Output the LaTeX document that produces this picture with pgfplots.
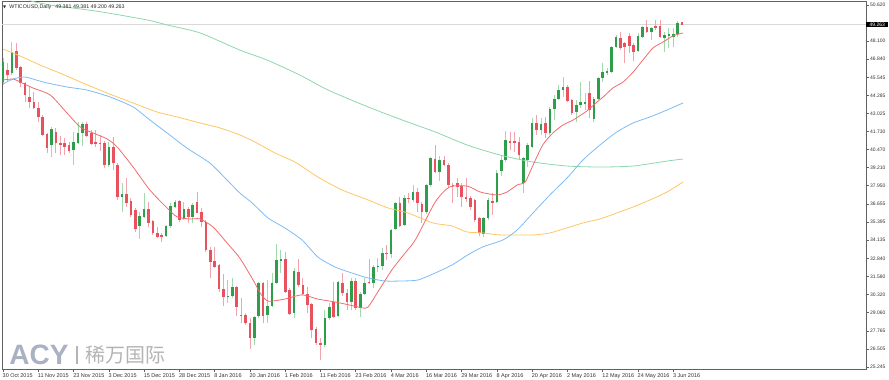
\documentclass[border=0pt]{standalone}
\usepackage{fontspec}
\setmainfont{Liberation Sans}
\newfontfamily\dejavu{DejaVu Sans}
\newfontfamily\cjk{Noto Sans CJK SC}
\usepackage{pgfplots}
\usepackage{pgfplotstable}
\pgfplotsset{compat=1.18}

\definecolor{bodyred}{HTML}{E8525F}
\definecolor{wickred}{HTML}{F2A3AD}
\definecolor{bodygreen}{HTML}{2F9E4B}
\definecolor{wickgreen}{HTML}{A3D9AE}
\definecolor{maRed}{HTML}{F26B6B}
\definecolor{maBlue}{HTML}{7DBBF7}
\definecolor{maOrange}{HTML}{FFC663}
\definecolor{maGreen}{HTML}{8FD6AC}
\definecolor{wmblue}{HTML}{A9B1C2}
\definecolor{wmgray}{HTML}{B4B4B4}

% rising candles: i open high low close
\pgfplotstableread{
i o h l c
0 45.22 46.90 45.01 46.62
2 45.85 48.03 45.71 47.32
11 40.81 42.07 39.96 41.93
16 40.45 41.72 39.40 41.02
17 40.95 42.42 40.88 41.65
18 41.65 42.42 40.74 42.28
24 39.40 41.02 39.26 40.66
27 37.16 38.14 36.11 37.37
31 35.13 36.11 34.22 35.83
32 35.76 37.44 35.69 36.32
37 34.43 35.20 34.36 35.13
38 35.13 36.74 34.99 36.53
39 36.46 36.95 36.39 36.81
41 35.62 36.81 35.55 36.32
43 35.76 36.74 35.34 36.60
51 30.15 31.34 29.73 30.22
52 30.22 31.48 30.08 30.85
57 27.28 28.80 26.79 28.75
58 28.82 31.18 28.68 31.13
60 28.89 31.34 28.33 29.52
61 29.52 31.83 29.45 31.13
62 31.13 33.87 31.06 32.74
63 32.67 33.45 31.83 32.81
66 29.03 32.18 28.68 31.97
73 26.79 29.24 26.65 28.68
74 28.68 29.73 28.54 29.45
76 28.82 31.27 28.75 31.20
79 29.80 31.48 29.24 31.27
81 29.38 30.50 28.75 30.36
82 30.36 31.48 30.29 31.13
84 31.13 32.39 30.78 32.25
85 32.25 32.88 31.90 32.32
86 32.32 33.59 32.04 33.24
88 33.17 34.92 32.88 34.85
89 34.92 36.81 34.85 36.74
91 35.20 37.30 35.13 37.09
93 36.95 38.00 36.81 37.51
96 36.11 38.07 35.97 38.00
97 38.00 39.96 37.86 39.89
99 38.91 40.03 38.28 39.75
109 34.57 35.75 34.36 35.69
110 35.69 37.09 35.55 36.95
112 36.81 39.05 36.74 38.84
113 38.98 40.10 38.63 39.75
114 39.75 41.79 39.61 41.16
118 38.14 39.96 37.44 39.89
119 39.75 40.95 39.26 40.81
120 40.66 42.70 40.59 42.35
122 41.86 42.70 41.51 42.28
124 41.65 43.47 41.51 43.33
125 43.33 44.31 42.56 44.03
126 44.03 45.01 43.96 44.66
127 44.66 45.57 44.17 44.87
130 43.12 43.96 42.42 43.61
131 43.61 45.22 43.40 43.82
132 43.68 44.45 43.26 43.82
134 42.63 44.17 42.42 44.03
135 44.03 45.57 43.96 45.50
136 45.50 46.55 45.22 45.92
137 45.85 46.20 45.71 45.99
138 45.92 47.75 45.85 47.68
139 47.68 48.52 47.61 48.38
144 47.39 48.66 47.32 48.45
145 48.38 49.15 48.31 49.08
147 48.73 49.08 48.17 49.01
150 48.31 48.73 47.32 48.52
151 48.45 49.01 47.61 48.59
152 48.38 49.01 47.68 48.59
153 48.59 49.50 48.38 49.36
}\up

% falling candles: i open high low close
\pgfplotstableread{
i o h l c
1 46.06 46.55 45.22 45.71
3 47.39 47.96 46.06 46.20
4 46.27 46.34 44.87 45.15
5 45.15 45.22 43.82 44.31
6 44.17 44.87 43.40 43.82
7 43.82 44.52 43.33 43.40
8 43.40 43.82 42.42 42.77
9 42.77 42.91 41.44 41.51
10 41.58 41.65 40.24 40.59
12 41.72 42.00 40.24 40.95
13 40.95 41.44 40.10 40.81
14 40.95 41.30 40.10 40.66
15 40.81 41.02 40.24 40.38
19 42.28 42.42 41.37 41.44
20 41.65 41.86 40.81 40.88
21 41.02 41.86 40.66 40.88
22 40.95 41.51 40.38 40.88
23 40.95 41.09 39.19 39.40
25 40.66 41.37 39.05 39.54
26 39.40 39.54 36.95 37.16
28 37.37 38.49 36.46 36.74
29 36.88 37.09 35.76 35.90
30 36.25 36.39 34.71 34.92
33 36.32 36.81 35.06 35.34
34 35.48 35.55 34.50 34.64
35 34.64 35.06 34.29 34.36
36 34.50 34.64 34.01 34.36
40 36.88 36.95 35.41 35.55
42 36.32 36.46 35.34 35.76
44 36.81 37.51 36.04 36.06
45 36.11 36.39 35.06 35.41
46 35.41 35.55 33.31 33.45
47 33.45 33.66 31.48 32.60
48 32.67 33.66 32.18 32.25
49 32.39 32.46 30.50 30.71
50 30.71 31.76 29.52 30.15
53 30.85 30.90 28.82 29.45
54 28.89 30.08 28.33 28.82
55 28.89 29.03 28.19 28.33
56 28.33 28.68 26.51 27.28
59 31.13 31.20 28.33 28.82
64 32.81 33.31 30.43 30.50
65 30.64 30.78 28.89 28.96
67 31.90 32.81 30.85 30.99
68 30.99 31.48 30.29 30.36
69 30.36 30.85 29.03 29.59
70 29.66 29.73 27.28 27.84
71 27.91 28.05 26.79 26.93
72 26.93 27.28 25.73 26.79
75 29.80 31.20 28.68 28.75
77 31.13 31.83 30.22 30.43
78 30.43 30.71 29.24 29.80
80 31.27 31.48 29.24 29.38
83 31.20 32.81 31.06 31.13
87 33.24 33.80 32.74 33.17
90 36.74 37.16 35.06 35.13
92 37.09 37.44 36.74 37.02
94 37.51 37.79 36.11 36.74
95 36.67 36.81 35.34 36.11
98 39.82 40.81 38.84 38.91
100 39.75 40.03 39.33 39.40
101 39.40 39.54 37.86 38.00
102 38.00 38.14 36.74 37.93
103 38.14 38.49 37.16 37.86
104 37.93 38.14 36.46 37.16
105 37.16 38.49 36.81 37.02
106 37.09 37.23 36.25 36.46
107 36.95 37.00 35.41 35.55
108 35.69 35.76 34.43 34.64
111 36.88 37.44 35.90 36.74
115 41.09 41.72 40.45 40.95
116 41.09 41.72 40.31 40.95
117 41.02 41.37 39.75 40.10
121 42.35 42.91 41.51 41.86
123 42.35 42.77 41.30 41.65
128 44.87 45.01 43.82 43.89
129 43.96 44.03 42.91 43.05
133 44.45 45.29 42.70 43.26
140 48.31 48.73 47.46 47.61
141 47.96 48.03 46.55 47.68
142 48.45 48.66 47.25 47.75
143 47.82 47.96 46.69 47.32
146 49.08 49.57 48.66 48.73
148 49.15 49.57 48.87 49.01
149 49.15 49.57 48.31 48.38
154 49.381 49.381 49.200 49.263
}\dn

\begin{document}
\begin{tikzpicture}
\useasboundingbox (0,0) rectangle (889pt,380pt);
% watermark
\node[anchor=center, inner sep=0pt, text=wmblue, font=\fontsize{28}{28}\selectfont\bfseries] at (39pt,25pt) {ACY};
\draw[wmgray, line width=1.3pt] (77pt,16pt) -- (77pt,34pt);
\node[anchor=center, inner sep=0pt, text=wmgray, font=\cjk\fontsize{20}{20}\selectfont] at (125pt,25pt) {稀万国际};

\begin{axis}[
  at={(2pt,11pt)}, anchor=south west,
  scale only axis, width=864pt, height=368pt,
  xmin=-0.23, xmax=195.7, ymin=25.10, ymax=50.90,
  clip mode=individual,
  axis line style={draw=black!62, line width=0.8pt},
  tick style={draw=black!62, line width=0.6pt},
  tick align=outside, major tick length=3pt,
  xtick pos=lower, ytick pos=right, yticklabel pos=right,
  xtick={0,8,...,152},
  xticklabels={30 Oct 2015,11 Nov 2015,23 Nov 2015,3 Dec 2015,15 Dec 2015,28 Dec 2015,8 Jan 2016,20 Jan 2016,1 Feb 2016,11 Feb 2016,23 Feb 2016,4 Mar 2016,16 Mar 2016,29 Mar 2016,8 Apr 2016,20 Apr 2016,2 May 2016,12 May 2016,24 May 2016,3 Jun 2016},
  xticklabel style={anchor=north west, inner sep=0pt, xshift=-0.5pt, yshift=-1pt, font=\fontsize{5.5}{6}\selectfont, text=black!80},
  ytick={25.245,26.505,27.765,29.060,30.320,31.580,32.840,34.135,35.395,36.655,37.950,39.210,40.470,41.730,43.025,44.285,45.545,46.840,48.100,50.620},
  scaled y ticks=false,
  yticklabel style={anchor=west, inner sep=0pt, xshift=1pt, font=\fontsize{5}{6}\selectfont, text=black!80,
     /pgf/number format/fixed, /pgf/number format/fixed zerofill, /pgf/number format/precision=3},
  /pgf/number format/assume math mode=true,
]
% bid line
\addplot[black!15, line width=1.4pt, forget plot] coordinates {(-0.23,49.263) (195.7,49.263)};

% wicks (low to high)
\addplot[wickred, line width=0.9pt, mark=none, forget plot,
  quiver={u=0, v={\thisrow{h}-\thisrow{l}+0.01}}]
  table[x=i, y=l]{\dn};
\addplot[wickgreen, line width=0.9pt, mark=none, forget plot,
  quiver={u=0, v={\thisrow{h}-\thisrow{l}+0.01}}]
  table[x=i, y=l]{\up};
% bodies (open to close)
\addplot[bodyred, line width=2.6pt, mark=none, forget plot,
  quiver={u=0, v={\thisrow{o}-\thisrow{c}+0.03}}]
  table[x=i, y expr={\thisrow{c}-0.015}]{\dn};
\addplot[bodygreen, line width=2.6pt, mark=none, forget plot,
  quiver={u=0, v={\thisrow{c}-\thisrow{o}+0.03}}]
  table[x=i, y expr={\thisrow{o}-0.015}]{\up};

% moving averages
\addplot[maGreen, line width=0.8pt, smooth, tension=0.4] coordinates {
(6,50.92) (10.7,50.62) (22,50.15) (32.7,49.57) (37.2,49.22) (44.7,48.66) (53.7,47.46) (59.9,46.76) (67.3,45.71) (73.7,44.66) (82.8,43.47) (90.5,42.56) (98,41.72) (105.2,40.81) (112.7,40.10) (120.2,39.61) (127.9,39.33) (135.4,39.26) (142.9,39.33) (150.6,39.68) (154.2,39.82)};
\addplot[maOrange, line width=0.8pt, smooth, tension=0.4] coordinates {
(0,47.53) (3.9,47.04) (8.4,46.41) (12.9,45.85) (18.1,45.15) (23.6,44.45) (29.5,43.75) (34.9,43.12) (39.5,42.77) (44.7,42.35) (49.2,42.00) (53.7,41.51) (57.1,41.02) (61.7,40.24) (66.2,39.61) (71.4,38.56) (76.9,37.65) (82.8,36.95) (87.3,36.39) (91.8,36.04) (97.5,35.34) (101.8,35.13) (105.2,34.71) (108.8,34.64) (112.7,34.50) (120.2,34.50) (124,34.64) (127.9,34.99) (131.5,35.34) (135.4,35.62) (139.2,36.04) (142.9,36.46) (146.7,36.95) (150.6,37.51) (154.2,38.21)};
\addplot[maBlue, line width=0.8pt, smooth, tension=0.4] coordinates {
(0,45.08) (2.3,45.43) (5,45.57) (9.1,45.22) (14.5,44.87) (19,44.66) (24.3,44.17) (29.5,43.47) (33.3,42.56) (37.2,41.65) (41.7,40.59) (46.9,39.54) (50.8,38.35) (53.7,37.44) (56.5,36.74) (60.1,35.69) (63.9,34.99) (67.8,34.15) (71.4,32.95) (75.3,32.25) (79.1,31.83) (82.8,31.48) (86.6,31.27) (90.5,31.27) (94.1,31.34) (98,31.83) (101.8,32.39) (105.4,33.10) (108.8,33.66) (113.4,34.15) (116.6,34.85) (120.2,36.04) (124,37.30) (127.9,38.49) (131.5,39.75) (135.4,40.81) (139.2,41.72) (142.9,42.35) (146.7,42.77) (150.6,43.26) (154.2,43.75)};
\addplot[maRed, line width=0.8pt, smooth, tension=0.4] coordinates {
(0,45.36) (2.3,45.43) (3.9,45.22) (6.8,44.80) (10.7,44.31) (14.5,43.05) (17.5,42.07) (20.4,41.65) (23.6,41.23) (25.9,40.66) (29.5,39.26) (33.3,37.65) (37.2,36.39) (39.5,35.76) (42.4,35.62) (44.7,35.62) (47.6,35.06) (50.8,33.94) (53.7,32.88) (56.5,31.45) (58.7,30.25) (60.3,29.85) (64,30.01) (67.8,30.30) (71.4,30.00) (75.3,29.80) (79.1,29.55) (81.5,29.38) (82.8,29.45) (85.2,30.60) (88.3,32.10) (91.5,33.35) (93.6,34.20) (98,36.80) (101.2,37.85) (105.3,37.92) (108.2,37.51) (112,37.30) (114.3,37.51) (116.6,38.00) (118.4,38.21) (120.2,39.40) (122.4,40.81) (124.7,41.65) (127,42.21) (129.3,42.56) (132.4,43.19) (134.7,43.82) (136.1,44.17) (138.3,44.80) (140.6,45.22) (142.9,45.92) (145.1,46.76) (147.4,47.61) (149.7,48.03) (151.9,48.45) (154.2,48.66)};

% price label
\node[anchor=west, fill=black, text=white, inner xsep=1.5pt, inner ysep=1pt, minimum width=22pt, font=\fontsize{5}{6}\selectfont] at (axis cs:195.7,49.263) {49.263};
\end{axis}
% header
\node[anchor=west, inner sep=0pt, text=black!85, font=\fontsize{5.3}{6}\selectfont] at (3pt,373pt) {{\dejavu\fontsize{4}{5}\selectfont ▼}\hspace{3pt}WTICOUSD,Daily\hspace{4pt}49.381 49.381 49.200 49.263};
\end{tikzpicture}
\end{document}
